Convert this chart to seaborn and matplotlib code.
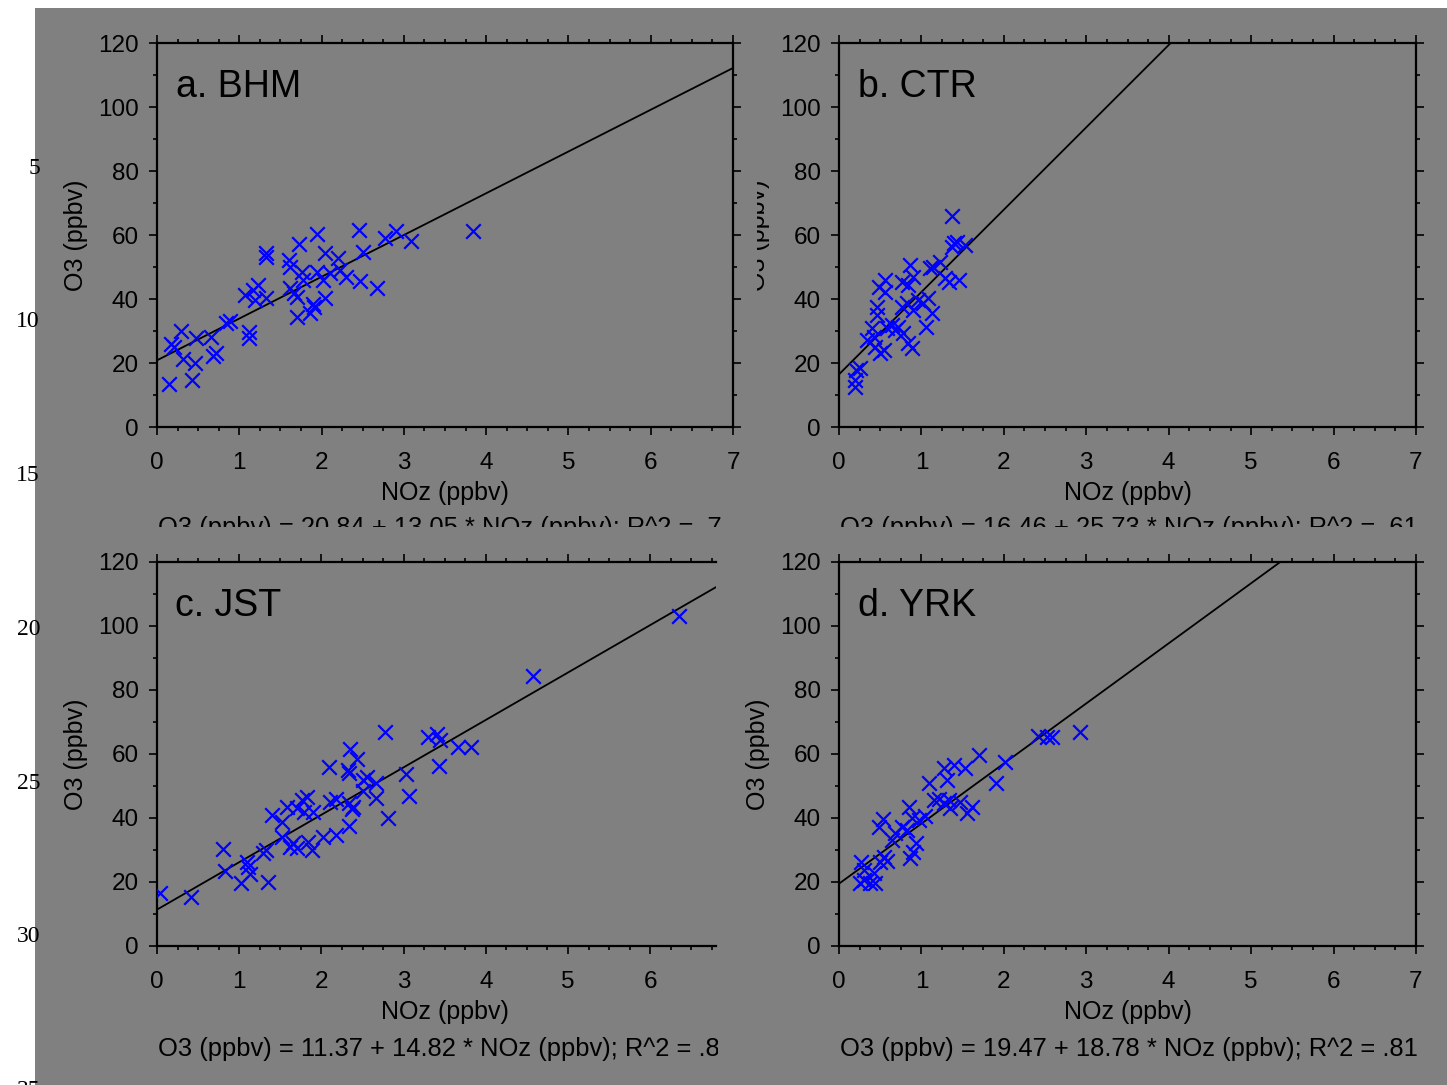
import numpy as np
import pandas as pd
import matplotlib
matplotlib.use("Agg")
import matplotlib.pyplot as plt
import seaborn as sns
from matplotlib.ticker import MultipleLocator
from matplotlib.patches import Rectangle
from matplotlib.transforms import Bbox

sns.set_style("ticks")
plt.rcParams['font.family'] = ['Liberation Sans', 'DejaVu Sans']
plt.rcParams['text.color'] = 'black'
plt.rcParams['axes.labelcolor'] = 'black'

GRAY = '#808080'
W, H = 1447, 1085

# ---- data ----
noz_bhm = [0.14, 0.43, 0.29, 0.17, 0.21, 0.32, 0.46, 0.48, 0.66, 0.68, 0.72, 0.84, 0.89,
           1.12, 1.12, 1.07, 1.17, 1.23, 1.19, 1.33, 1.33, 1.33, 1.60, 1.62, 1.72, 1.94,
           1.62, 1.66, 1.70, 1.76, 1.78, 1.70, 1.86, 1.90, 2.04, 1.94, 2.02, 2.04, 2.10,
           2.20, 2.22, 2.30, 2.47, 2.45, 2.50, 2.67, 2.77, 2.91, 3.09, 3.84, 1.91]
o3_bhm = [13.4, 14.7, 30.1, 25.9, 25.1, 21.2, 19.9, 27.7, 28.2, 22.2, 23.2, 32.6, 33.2,
          29.8, 27.7, 41.3, 42.8, 44.4, 39.7, 40.2, 54.3, 53.2, 52.2, 50.1, 57.1, 60.3,
          43.3, 41.8, 40.7, 48.5, 45.9, 34.5, 35.5, 38.4, 40.2, 48.5, 45.9, 54.5, 48.0,
          52.7, 49.1, 47.0, 45.7, 61.6, 54.6, 43.3, 59.0, 61.4, 58.2, 61.4, 37.5]

noz_ctr = [0.19, 0.19, 0.21, 0.25, 0.40, 0.42, 0.46, 0.46, 0.48, 0.56, 0.56, 0.44, 0.50,
           0.54, 0.58, 0.64, 0.68, 0.72, 0.78, 0.84, 0.88, 0.76, 0.86, 0.84, 0.90, 0.76,
           0.82, 0.90, 0.96, 1.02, 1.08, 1.13, 1.06, 1.10, 1.14, 1.23, 1.29, 1.33, 1.45,
           1.37, 1.39, 1.43, 1.53, 1.37, 0.34]
o3_ctr = [12.4, 14.7, 17.8, 18.3, 30.8, 28.2, 35.0, 37.6, 43.8, 45.9, 42.3, 25.1, 23.0,
          24.1, 30.8, 31.9, 30.3, 31.3, 29.3, 26.2, 24.6, 45.4, 50.6, 44.4, 47.0, 37.6,
          38.6, 36.6, 39.7, 38.6, 40.2, 35.5, 31.3, 49.6, 50.1, 51.7, 46.5, 45.4, 45.9,
          65.9, 57.4, 57.9, 56.9, 56.3, 27.2]

noz_jst = [0.04, 0.41, 0.80, 0.83, 1.02, 1.11, 1.13, 1.09, 1.35, 1.29, 1.33, 1.40, 1.52,
           1.52, 1.58, 1.62, 1.66, 1.70, 1.70, 1.76, 1.82, 1.79, 1.90, 1.84, 1.88, 2.02,
           2.10, 2.09, 2.18, 2.18, 2.34, 2.34, 2.37, 2.39, 2.32, 2.34, 2.35, 2.43, 2.51,
           2.55, 2.51, 2.66, 2.67, 2.77, 2.81, 3.03, 3.07, 3.30, 3.40, 3.44, 3.43, 3.66,
           3.82, 4.57, 6.35]
o3_jst = [16.5, 15.2, 30.2, 23.5, 19.8, 24.8, 22.5, 26.3, 19.9, 29.0, 30.0, 40.9, 38.8,
          34.2, 43.5, 31.0, 32.1, 30.5, 43.0, 45.6, 46.7, 42.0, 42.0, 32.6, 30.0, 34.2,
          45.1, 55.8, 45.8, 34.7, 37.5, 44.6, 42.7, 43.3, 55.0, 54.0, 61.5, 58.3, 51.9,
          52.9, 48.5, 51.0, 46.1, 67.0, 39.9, 53.8, 46.9, 65.4, 66.3, 64.4, 56.3, 62.3,
          62.1, 84.5, 103.2]

noz_yrk = [0.25, 0.30, 0.38, 0.44, 0.27, 0.30, 0.42, 0.50, 0.54, 0.58, 0.49, 0.53, 0.64,
           0.68, 0.76, 0.82, 0.85, 0.86, 0.90, 0.94, 0.89, 0.97, 1.04, 1.09, 1.15, 1.21,
           1.27, 1.31, 1.27, 1.33, 1.35, 1.39, 1.53, 1.47, 1.55, 1.61, 1.70, 1.90, 2.01,
           2.42, 2.52, 2.59, 2.92]
o3_yrk = [19.8, 20.6, 19.6, 19.6, 26.3, 23.8, 22.7, 26.3, 27.9, 26.7, 37.3, 39.6, 33.1,
          35.2, 37.3, 36.3, 43.5, 27.4, 29.5, 32.2, 40.0, 39.4, 40.6, 50.8, 45.6, 45.8,
          55.5, 51.9, 44.6, 45.6, 43.0, 56.6, 55.7, 45.1, 41.5, 43.5, 59.7, 50.8, 57.6,
          65.6, 65.2, 65.2, 67.0]

titles = ['a. BHM', 'b. CTR', 'c. JST', 'd. YRK']
intercepts = [20.84, 16.46, 11.37, 19.47]
slopes = [13.05, 25.73, 14.82, 18.78]
r2_shown = ['.7', '.61', '.8', '.81']
line_numbers = ['5', '10', '15', '20', '25', '30', '35']

series = [(noz_bhm, o3_bhm), (noz_ctr, o3_ctr), (noz_jst, o3_jst), (noz_yrk, o3_yrk)]

fig = plt.figure(figsize=(W / 100, H / 100), dpi=100, facecolor='white')
fig.patches.append(Rectangle((35 / W, 0), 1 - 35 / W, 1 - 8 / H, transform=fig.transFigure,
                             facecolor=GRAY, edgecolor='none', zorder=-10))

# axes boxes in pixels: left, top(y of 120), right, bottom(y of 0)
boxes = [(157, 43, 733, 427), (839, 43, 1416, 427), (157, 562, 716, 946), (839, 562, 1416, 946)]
xmax = [7, 7, 6.8, 7]


def px(x0, y0, x1, y1):
    return [x0 / W, 1 - y1 / H, (x1 - x0) / W, (y1 - y0) / H]


axes = []
for i, (box, (xs, ys)) in enumerate(zip(boxes, series)):
    ax = fig.add_axes(px(*box))
    ax.set_facecolor(GRAY)
    df = pd.DataFrame({'NOz': xs, 'O3': ys})
    sns.scatterplot(data=df, x='NOz', y='O3', marker='x', color='blue', s=110,
                    linewidth=1.6, ax=ax, zorder=3)
    ax.axline((0, intercepts[i]), slope=slopes[i], color='black', lw=1.3, zorder=2)
    ax.set_xlim(0, xmax[i])
    ax.set_ylim(0, 120)
    ax.xaxis.set_major_locator(MultipleLocator(1))
    ax.xaxis.set_minor_locator(MultipleLocator(0.25))
    ax.yaxis.set_major_locator(MultipleLocator(20))
    ax.yaxis.set_minor_locator(MultipleLocator(10))
    ax.tick_params(which='both', direction='out', top=True, right=(i != 2),
                   labeltop=False, labelright=False, colors='black', width=1.2)
    ax.tick_params(which='major', length=6, labelsize=17.5)
    ax.tick_params(axis='x', which='major', pad=12)
    ax.tick_params(axis='y', which='major', pad=7)
    ax.tick_params(which='minor', length=3)
    for name, sp in ax.spines.items():
        sp.set_color('black')
        sp.set_linewidth(1.6)
    if i == 2:
        ax.spines['right'].set_visible(False)
    ax.set_xlabel('NOz (ppbv)', fontsize=18, labelpad=5)
    ax.set_ylabel('O3 (ppbv)', fontsize=18, labelpad=7)
    ax.text(0.033, 0.885, titles[i], transform=ax.transAxes, fontsize=27, va='center', ha='left')
    axes.append(ax)

# panel c is cut on the right, its x label stays where a full panel would centre it
axes[2].xaxis.label.set_x(0.5 * 7 / 6.8)

# clipped y label on panel b
lab = axes[1].yaxis.label
lab.set_clip_box(Bbox.from_extents(757, 0, W, H))
lab.set_clip_on(True)

# regression equations under each panel
eq_pos = [(158, 535), (840, 535), (158, 1056), (840, 1056)]
eq_clip = [(0, H - 527, W, H), (0, H - 527, W, H), (0, 0, 718, H), (0, 0, W, H)]
for i in range(4):
    s = 'O3 (ppbv) = %.2f + %.2f * NOz (ppbv); R^2 = %s' % (intercepts[i], slopes[i], r2_shown[i])
    t = fig.text(eq_pos[i][0] / W, 1 - eq_pos[i][1] / H, s, fontsize=18.4, ha='left', va='baseline')
    t.set_clip_box(Bbox.from_extents(*eq_clip[i]))
    t.set_clip_on(True)

# line numbers down the left edge
for k, lbl in enumerate(line_numbers):
    fig.text(40 / W, 1 - (168 + 153.8 * k) / H, lbl, fontsize=17, ha='right', va='center',
             family='Liberation Serif', color='black')

fig.savefig('out.png', dpi=100, facecolor='white')
